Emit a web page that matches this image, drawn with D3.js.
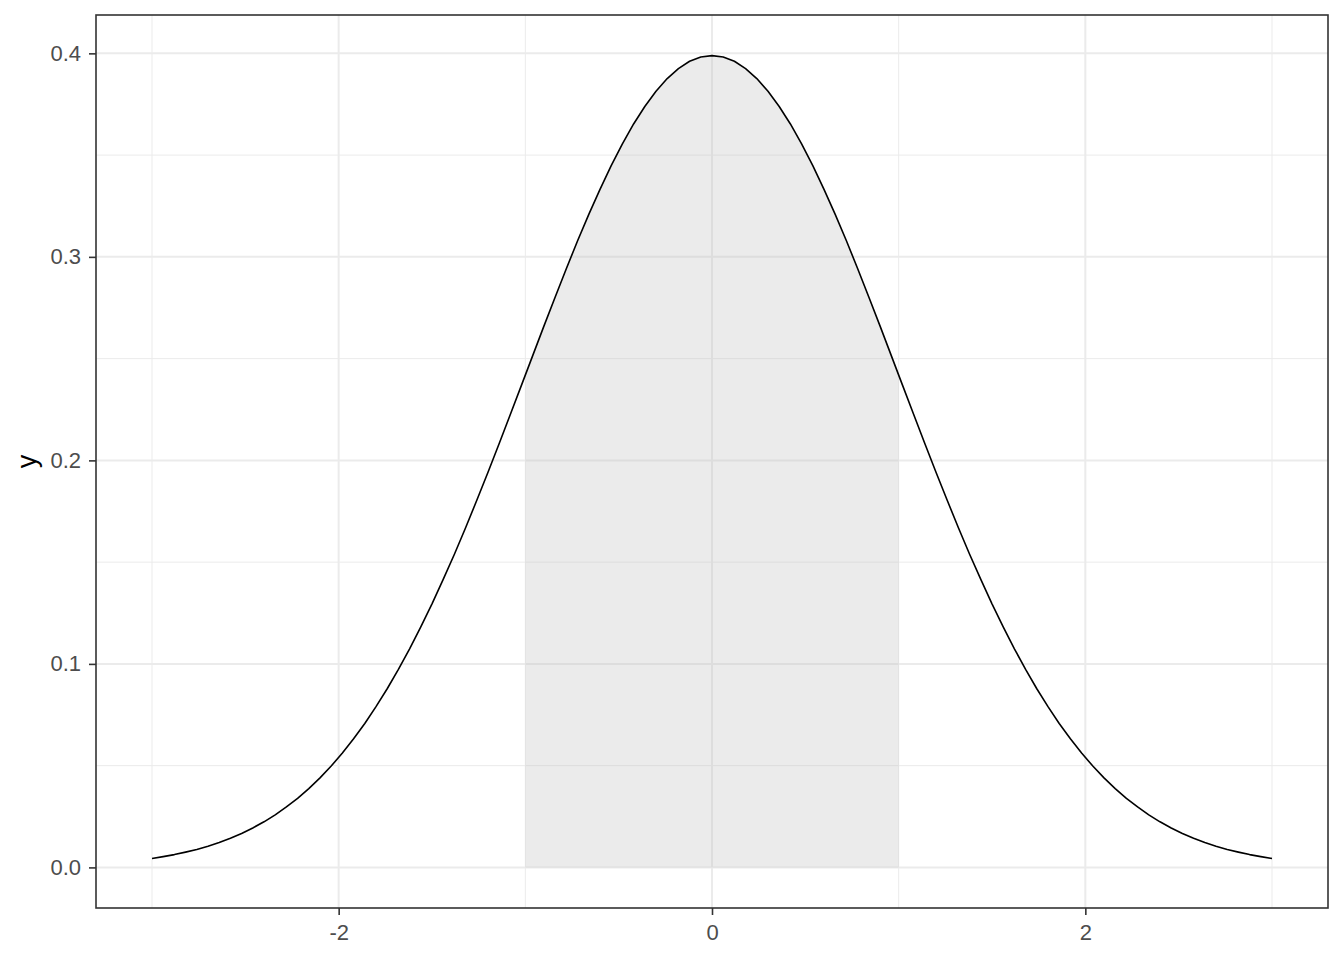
<!DOCTYPE html>
<html>
<head>
<meta charset="utf-8">
<script src="https://cdn.jsdelivr.net/npm/d3@7"></script>
<style>
  body { margin: 0; background: #fff; }
  svg { display: block; font-family: "Liberation Sans", Arial, sans-serif; }
</style>
</head>
<body>
<div id="chart"></div>
<script>
// Density curve, sampled along x
const curveX = [
  -3.00, -2.94, -2.88, -2.82, -2.76, -2.70, -2.64, -2.58, -2.52, -2.46,
  -2.40, -2.34, -2.28, -2.22, -2.16, -2.10, -2.04, -1.98, -1.92, -1.86,
  -1.80, -1.74, -1.68, -1.62, -1.56, -1.50, -1.44, -1.38, -1.32, -1.26,
  -1.20, -1.14, -1.08, -1.02, -0.96, -0.90, -0.84, -0.78, -0.72, -0.66,
  -0.60, -0.54, -0.48, -0.42, -0.36, -0.30, -0.24, -0.18, -0.12, -0.06,
  0.00,
  0.06, 0.12, 0.18, 0.24, 0.30, 0.36, 0.42, 0.48, 0.54, 0.60,
  0.66, 0.72, 0.78, 0.84, 0.90, 0.96, 1.02, 1.08, 1.14, 1.20,
  1.26, 1.32, 1.38, 1.44, 1.50, 1.56, 1.62, 1.68, 1.74, 1.80,
  1.86, 1.92, 1.98, 2.04, 2.10, 2.16, 2.22, 2.28, 2.34, 2.40,
  2.46, 2.52, 2.58, 2.64, 2.70, 2.76, 2.82, 2.88, 2.94, 3.00
];
const curveY = [
  0.0044, 0.0053, 0.0063, 0.0075, 0.0088, 0.0104, 0.0122, 0.0143, 0.0167, 0.0194,
  0.0224, 0.0258, 0.0297, 0.0339, 0.0387, 0.0440, 0.0498, 0.0562, 0.0632, 0.0707,
  0.0790, 0.0878, 0.0973, 0.1074, 0.1182, 0.1295, 0.1415, 0.1539, 0.1669, 0.1804,
  0.1942, 0.2083, 0.2227, 0.2371, 0.2516, 0.2661, 0.2803, 0.2943, 0.3079, 0.3209,
  0.3332, 0.3448, 0.3555, 0.3653, 0.3739, 0.3814, 0.3876, 0.3925, 0.3961, 0.3982,
  0.3989,
  0.3982, 0.3961, 0.3925, 0.3876, 0.3814, 0.3739, 0.3653, 0.3555, 0.3448, 0.3332,
  0.3209, 0.3079, 0.2943, 0.2803, 0.2661, 0.2516, 0.2371, 0.2227, 0.2083, 0.1942,
  0.1804, 0.1669, 0.1539, 0.1415, 0.1295, 0.1182, 0.1074, 0.0973, 0.0878, 0.0790,
  0.0707, 0.0632, 0.0562, 0.0498, 0.0440, 0.0387, 0.0339, 0.0297, 0.0258, 0.0224,
  0.0194, 0.0167, 0.0143, 0.0122, 0.0104, 0.0088, 0.0075, 0.0063, 0.0053, 0.0044
];

// Shaded region between -1 and 1
const shadeX = [-1.0, -0.9, -0.8, -0.7, -0.6, -0.5, -0.4, -0.3, -0.2, -0.1, 0.0,
  0.1, 0.2, 0.3, 0.4, 0.5, 0.6, 0.7, 0.8, 0.9, 1.0];
const shadeY = [0.2420, 0.2661, 0.2897, 0.3123, 0.3332, 0.3521, 0.3683, 0.3814, 0.3910, 0.3970, 0.3989,
  0.3970, 0.3910, 0.3814, 0.3683, 0.3521, 0.3332, 0.3123, 0.2897, 0.2661, 0.2420];

// Ticks
const xMajor = [-2, 0, 2];
const xMinor = [-3, -1, 1, 3];
const yMajor = [0, 0.1, 0.2, 0.3, 0.4];
const yMinor = [0.05, 0.15, 0.25, 0.35];
const yTitle = "y";

const curve = curveX.map((x, i) => ({ x: x, y: curveY[i] }));
const shade = shadeX.map((x, i) => ({ x: x, y: shadeY[i] }));

const width = 1344;
const height = 960;
const margin = { top: 15, right: 16, bottom: 52, left: 96 };

let svg = d3.select("#chart")
  .append("svg")
  .attr("width", width)
  .attr("height", height);

// ggplot-style 5% expansion on both axes
let xExt = d3.extent(curveX);
let xPad = (xExt[1] - xExt[0]) * 0.05;
let yExt = [0, d3.max(curveY)];
let yPad = (yExt[1] - yExt[0]) * 0.05;

let xScale = d3.scaleLinear()
  .domain([xExt[0] - xPad, xExt[1] + xPad])
  .range([margin.left, width - margin.right]);
let yScale = d3.scaleLinear()
  .domain([yExt[0] - yPad, yExt[1] + yPad])
  .range([height - margin.bottom, margin.top]);

let x0 = margin.left, x1 = width - margin.right;
let y0 = margin.top, y1 = height - margin.bottom;

// Minor grid
svg.append("g").selectAll("line")
  .data(xMinor).join("line")
  .attr("x1", d => xScale(d)).attr("x2", d => xScale(d))
  .attr("y1", y0).attr("y2", y1)
  .attr("stroke", "#EBEBEB").attr("stroke-width", 1);
svg.append("g").selectAll("line")
  .data(yMinor).join("line")
  .attr("x1", x0).attr("x2", x1)
  .attr("y1", d => yScale(d)).attr("y2", d => yScale(d))
  .attr("stroke", "#EBEBEB").attr("stroke-width", 1);

// Major grid
svg.append("g").selectAll("line")
  .data(xMajor).join("line")
  .attr("x1", d => xScale(d)).attr("x2", d => xScale(d))
  .attr("y1", y0).attr("y2", y1)
  .attr("stroke", "#EBEBEB").attr("stroke-width", 2);
svg.append("g").selectAll("line")
  .data(yMajor).join("line")
  .attr("x1", x0).attr("x2", x1)
  .attr("y1", d => yScale(d)).attr("y2", d => yScale(d))
  .attr("stroke", "#EBEBEB").attr("stroke-width", 2);

// Shaded area
let area = d3.area()
  .x(d => xScale(d.x))
  .y0(yScale(0))
  .y1(d => yScale(d.y));
svg.append("path")
  .datum(shade)
  .attr("d", area)
  .attr("fill", "#BEBEBE")
  .attr("fill-opacity", 0.3);

// Density line
let line = d3.line()
  .x(d => xScale(d.x))
  .y(d => yScale(d.y));
svg.append("path")
  .datum(curve)
  .attr("d", line)
  .attr("fill", "none")
  .attr("stroke", "#000")
  .attr("stroke-width", 1.6)
  .attr("stroke-linejoin", "round");

// Panel border
svg.append("rect")
  .attr("x", x0).attr("y", y0)
  .attr("width", x1 - x0).attr("height", y1 - y0)
  .attr("fill", "none")
  .attr("stroke", "#333333")
  .attr("stroke-width", 1.6);

// Axes (plain hyphen for negatives, like R)
let xAxis = d3.axisBottom(xScale)
  .tickValues(xMajor)
  .tickSize(7)
  .tickPadding(8)
  .tickFormat(d => String(d));
let yAxis = d3.axisLeft(yScale)
  .tickValues(yMajor)
  .tickSize(7)
  .tickPadding(8)
  .tickFormat(d => d.toFixed(1));

let gx = svg.append("g")
  .attr("transform", "translate(0," + y1 + ")")
  .call(xAxis);
let gy = svg.append("g")
  .attr("transform", "translate(" + x0 + ",0)")
  .call(yAxis);

[gx, gy].forEach(g => {
  g.select(".domain").remove();
  g.selectAll(".tick line").attr("stroke", "#333333").attr("stroke-width", 1.6);
  g.selectAll(".tick text")
    .attr("fill", "#4D4D4D")
    .style("font-size", "22px");
});
gx.selectAll(".tick text").attr("dy", "0.75em");

// Y title
svg.append("text")
  .attr("transform", "translate(27," + ((y0 + y1) / 2) + ") rotate(-90)")
  .attr("text-anchor", "middle")
  .attr("dy", "0.35em")
  .attr("fill", "#000")
  .style("font-size", "27px")
  .text(yTitle);
</script>
</body>
</html>
